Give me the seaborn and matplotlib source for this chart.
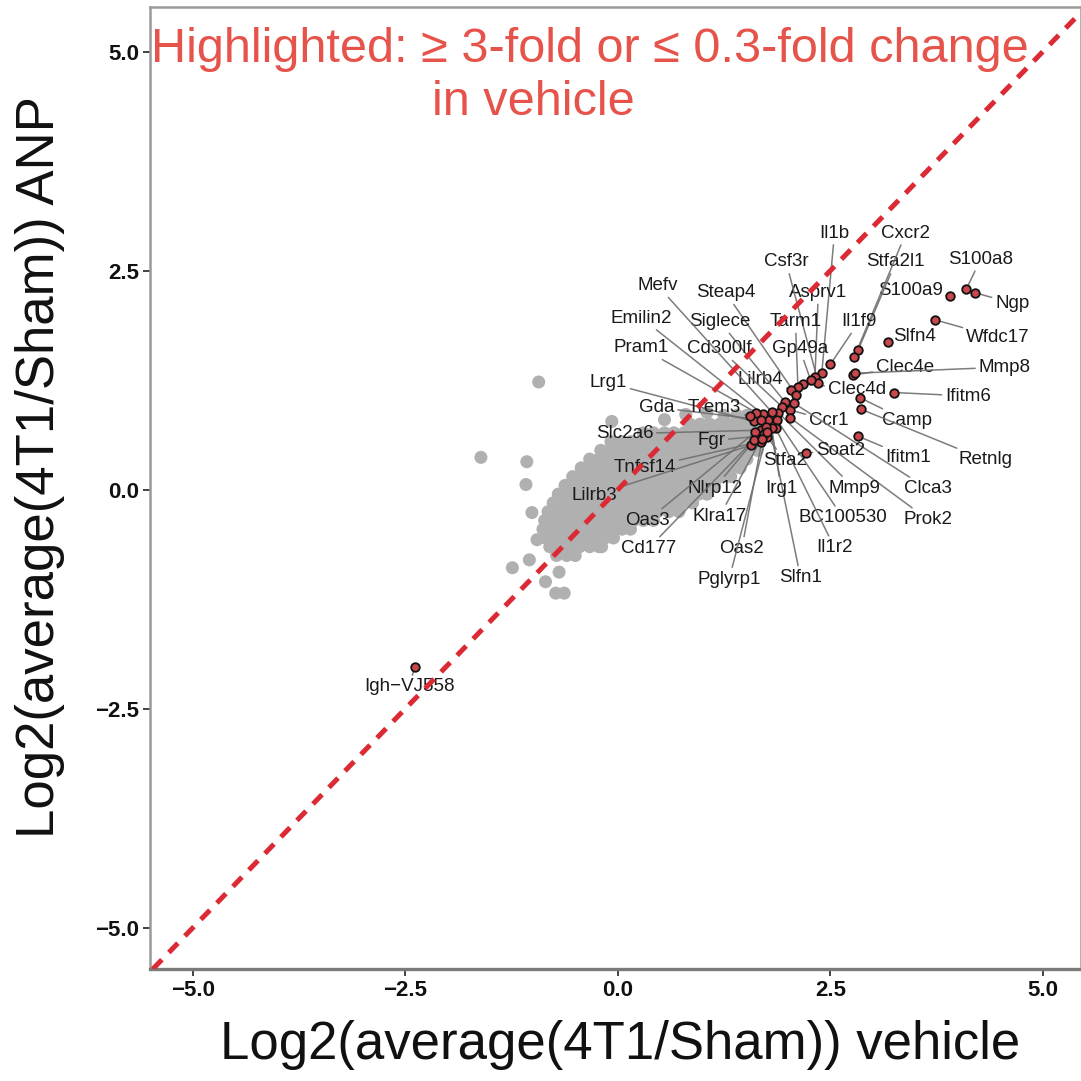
import numpy as np
import pandas as pd
import matplotlib
matplotlib.use("Agg")
import matplotlib.pyplot as plt
import seaborn as sns

# ---------------- background genes (grey cloud) ----------------
# rows of the dense cloud: one ANP value per row, vehicle values listed
cloud_levels = [0.85, 0.75, 0.65, 0.55, 0.45, 0.35, 0.25, 0.15, 0.05,
                -0.05, -0.15, -0.25, -0.35, -0.45, -0.55, -0.65, -0.75]
cloud_rows = [
    [1.25, 1.40, 1.52, 1.62],
    [0.85, 0.97, 1.08, 1.20, 1.30, 1.42, 1.55, 1.65],
    [0.30, 0.42, 0.55, 0.66, 0.78, 0.90, 1.00, 1.12, 1.24, 1.35, 1.46, 1.58, 1.68],
    [-0.08, 0.05, 0.16, 0.28, 0.40, 0.52, 0.63, 0.75, 0.86, 0.98, 1.10, 1.20, 1.32, 1.44, 1.56, 1.66],
    [-0.20, -0.10, 0.02, 0.14, 0.25, 0.37, 0.48, 0.60, 0.72, 0.83, 0.95, 1.06, 1.18, 1.30, 1.42, 1.55, 1.64],
    [-0.33, -0.22, -0.10, 0.00, 0.12, 0.24, 0.35, 0.47, 0.58, 0.70, 0.82, 0.93, 1.05, 1.16, 1.28, 1.40, 1.52],
    [-0.43, -0.32, -0.20, -0.09, 0.03, 0.15, 0.26, 0.38, 0.50, 0.61, 0.73, 0.84, 0.96, 1.08, 1.20, 1.32, 1.44],
    [-0.53, -0.42, -0.30, -0.18, -0.07, 0.05, 0.17, 0.28, 0.40, 0.52, 0.63, 0.75, 0.86, 0.98, 1.10, 1.22, 1.33],
    [-0.62, -0.50, -0.39, -0.27, -0.15, -0.04, 0.08, 0.20, 0.31, 0.43, 0.55, 0.66, 0.78, 0.90, 1.02, 1.14],
    [-0.70, -0.58, -0.47, -0.35, -0.24, -0.12, 0.00, 0.11, 0.23, 0.35, 0.46, 0.58, 0.70, 0.82, 0.95, 1.05],
    [-0.76, -0.65, -0.53, -0.42, -0.30, -0.18, -0.07, 0.05, 0.17, 0.28, 0.40, 0.52, 0.64, 0.76, 0.88],
    [-0.82, -0.70, -0.59, -0.47, -0.36, -0.24, -0.12, 0.00, 0.11, 0.23, 0.35, 0.47, 0.60, 0.72],
    [-0.86, -0.75, -0.63, -0.52, -0.40, -0.28, -0.17, -0.05, 0.07, 0.19, 0.30, 0.42],
    [-0.88, -0.77, -0.65, -0.54, -0.42, -0.30, -0.19, -0.07, 0.05, 0.15],
    [-0.85, -0.73, -0.62, -0.50, -0.38, -0.27, -0.15, -0.05],
    [-0.80, -0.68, -0.57, -0.45, -0.33, -0.22],
    [-0.72, -0.60, -0.50],
]
# scattered background genes away from the main cloud
outlier_vehicle = [-0.93, -1.61, -1.08, -1.07, -0.07, -1.24, -1.04, -0.85, -0.73,
                   -0.63, -0.69, -0.95, -1.01, -0.19, 0.55, 0.80, 1.05]
outlier_anp = [1.23, 0.37, 0.06, 0.32, 0.78, -0.89, -0.80, -1.05, -1.18,
               -1.18, -0.94, -0.57, -0.26, -0.65, 0.80, 0.86, 0.88]

# ---------------- highlighted genes ----------------
genes = ["S100a8", "Ngp", "S100a9", "Wfdc17", "Slfn4", "Stfa2l1", "Cxcr2", "Il1f9",
         "Il1b", "Asprv1", "Csf3r", "Clec4e", "Mmp8", "Ifitm6", "Camp", "Retnlg",
         "Ifitm1", "Clec4d", "Gp49a", "Tarm1", "Lilrb4", "Steap4", "Siglece",
         "Cd300lf", "Ccr1", "Prok2", "Clca3", "Mmp9", "BC100530", "Il1r2", "Slfn1",
         "Irg1", "Stfa2", "Soat2", "Mefv", "Emilin2", "Pram1", "Lrg1", "Gda",
         "Trem3", "Slc2a6", "Fgr", "Tnfsf14", "Lilrb3", "Nlrp12", "Oas3", "Klra17",
         "Cd177", "Oas2", "Pglyrp1", "Igh\u2212VJ558"]
vehicle = [4.10, 4.20, 3.91, 3.73, 3.18, 2.83, 2.78, 2.50,
           2.40, 2.32, 2.36, 2.77, 2.79, 3.25, 2.85, 2.86,
           2.83, 2.18, 2.27, 2.12, 2.04, 2.10, 1.97,
           1.93, 2.03, 2.03, 2.07, 1.89, 1.87, 1.86, 1.77,
           1.81, 1.76, 2.22, 1.81, 1.71, 1.63, 1.60, 1.68,
           1.56, 1.68, 1.65, 1.68, 1.57, 1.74, 1.62, 1.72,
           1.60, 1.70, 1.76, -2.39]
anp = [2.29, 2.25, 2.21, 1.94, 1.69, 1.60, 1.51, 1.43,
       1.33, 1.29, 1.22, 1.31, 1.33, 1.11, 1.05, 0.92,
       0.61, 1.21, 1.25, 1.17, 1.14, 1.08, 1.00,
       0.95, 0.91, 0.82, 0.99, 0.88, 0.80, 0.70, 0.80,
       0.71, 0.60, 0.42, 0.89, 0.86, 0.88, 0.78, 0.80,
       0.84, 0.68, 0.61, 0.55, 0.51, 0.72, 0.66, 0.64,
       0.57, 0.58, 0.66, -2.02]

# where each gene name is written (data units)
label_x = [4.27, 4.64, 3.44, 4.47, 3.49, 3.27, 3.39, 2.84,
           2.55, 2.36, 1.98, 3.38, 4.55, 4.12, 3.40, 4.33,
           3.42, 2.81, 2.14, 2.09, 1.68, 1.27, 1.20,
           1.20, 2.48, 3.65, 3.65, 2.78, 2.65, 2.55, 2.15,
           1.92, 1.97, 2.62, 0.47, 0.28, 0.28, -0.11, 0.46,
           1.14, 0.08, 1.10, 0.32, -0.27, 1.14, 0.35, 1.20,
           0.36, 1.46, 1.31, -2.45]
label_y = [2.63, 2.13, 2.27, 1.74, 1.75, 2.60, 2.93, 1.92,
           2.93, 2.25, 2.60, 1.40, 1.40, 1.07, 0.79, 0.34,
           0.37, 1.15, 1.61, 1.92, 1.26, 2.25, 1.92,
           1.61, 0.79, -0.34, 0.01, 0.02, -0.32, -0.66, -1.00,
           0.02, 0.33, 0.45, 2.33, 1.96, 1.62, 1.22, 0.94,
           0.94, 0.64, 0.56, 0.25, -0.06, 0.02, -0.35, -0.30,
           -0.67, -0.67, -1.02, -2.25]

# ---------------- tables ----------------
bg_v, bg_a = [], []
for level, row in zip(cloud_levels, cloud_rows):
    bg_v.extend(row)
    bg_a.extend([level] * len(row))
bg_v.extend(outlier_vehicle)
bg_a.extend(outlier_anp)
background = pd.DataFrame({"vehicle": bg_v, "anp": bg_a})
highlight = pd.DataFrame({"gene": genes, "vehicle": vehicle, "anp": anp,
                          "lx": label_x, "ly": label_y})

# ---------------- styling ----------------
sns.set_theme(style="white")
plt.rcParams["font.family"] = ["Liberation Sans", "DejaVu Sans"]

fig = plt.figure(figsize=(10.81, 10.81), dpi=100)
ax = fig.add_axes([0.139, 0.1036, 0.861, 0.8899])

sns.scatterplot(data=background, x="vehicle", y="anp", ax=ax,
                color="#B0B0B0", alpha=1.0, s=88, edgecolor="none",
                linewidth=0, zorder=2)

# identity line
ax.axline((0, 0), slope=1, color="#DC2A35", lw=3.6,
          linestyle=(0, (2.6, 2.0)), zorder=5)

# gene labels with leader segments
for _, r in highlight.iterrows():
    ax.annotate(r["gene"], xy=(r["vehicle"], r["anp"]), xytext=(r["lx"], r["ly"]),
                textcoords="data", ha="center", va="center", fontsize=13.5,
                color="#1a1a1a", zorder=3,
                arrowprops=dict(arrowstyle="-", color="#6e6e6e", lw=1.1,
                                alpha=0.9, shrinkA=0, shrinkB=3))

sns.scatterplot(data=highlight, x="vehicle", y="anp", ax=ax,
                color="#C8474D", s=38, edgecolor="#111111", linewidth=1.3,
                zorder=4)

ax.text(-0.33, 5.02, "Highlighted: \u2265 3-fold or \u2264 0.3-fold change",
        ha="center", va="center", fontsize=35, color="#E5534B", zorder=6)
ax.text(-0.99, 4.42, "in vehicle", ha="center", va="center", fontsize=35,
        color="#E5534B", zorder=6)

ax.set_xlim(-5.5, 5.45)
ax.set_ylim(-5.47, 5.51)
ticks = [-5.0, -2.5, 0.0, 2.5, 5.0]
ax.set_xticks(ticks)
ax.set_yticks(ticks)
ax.set_xticklabels([f"{t:.1f}".replace("-", "\u2212") for t in ticks])
ax.set_yticklabels([f"{t:.1f}".replace("-", "\u2212") for t in ticks])
ax.tick_params(axis="both", which="both", length=5, width=1.3, color="#333333",
               labelsize=16, labelcolor="#111111", pad=3, direction="out",
               bottom=True, left=True)
for lab in ax.get_xticklabels() + ax.get_yticklabels():
    lab.set_fontweight("bold")

for side in ["top", "left", "bottom", "right"]:
    ax.spines[side].set_visible(True)
    ax.spines[side].set_color("#9a9a9a")
    ax.spines[side].set_linewidth(1.8)
ax.spines["bottom"].set_color("#7a7a7a")
ax.spines["bottom"].set_linewidth(2.4)

ax.set_xlabel("Log2(average(4T1/Sham)) vehicle", fontsize=38, color="#111111")
ax.set_ylabel("Log2(average(4T1/Sham)) ANP", fontsize=38, color="#111111")
ax.xaxis.set_label_coords(0.505, -0.079)
ax.xaxis.label.set_va("center")
ax.yaxis.set_label_coords(-0.118, 0.522)
ax.yaxis.label.set_va("center")

fig.savefig("out.png", dpi=100, facecolor="white")
